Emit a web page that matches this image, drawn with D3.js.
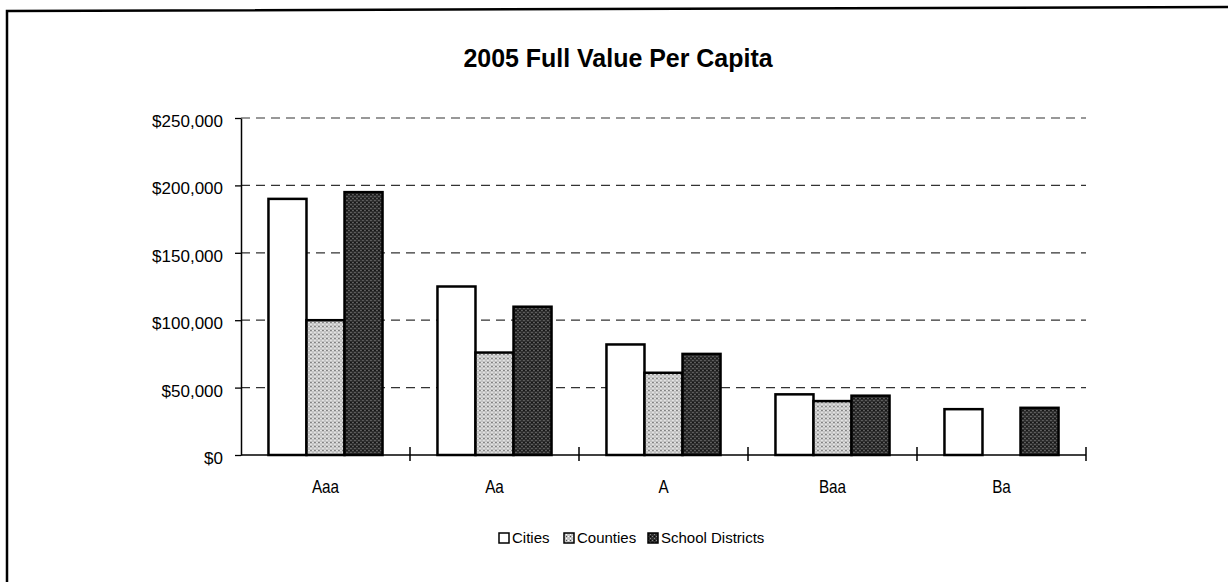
<!DOCTYPE html>
<html>
<head>
<meta charset="utf-8">
<script src="https://cdn.jsdelivr.net/npm/d3@7"></script>
<style>
  html, body { margin: 0; padding: 0; background: #fff; }
  svg { display: block; }
  text { font-family: "Liberation Sans", Arial, sans-serif; fill: #000; }
</style>
</head>
<body>
<svg id="chart" width="1228" height="582"></svg>
<script>
// Bond rating categories and per-capita full value by issuer type
const ratings = ["Aaa", "Aa", "A", "Baa", "Ba"];
const seriesNames = ["Cities", "Counties", "School Districts"];
const cities = [190000, 125000, 82000, 45000, 34000];
const counties = [100000, 76000, 61000, 40000, null];
const schoolDistricts = [195000, 110000, 75000, 44000, 35000];
const yTicks = [0, 50000, 100000, 150000, 200000, 250000];
const title = "2005 Full Value Per Capita";

const seriesValues = [cities, counties, schoolDistricts];
const fills = ["#ffffff", "url(#stippleLight)", "url(#stippleDark)"];

const svg = d3.select("#chart");
const W = 1228, H = 582;
const margin = { left: 241, right: 142, top: 118, bottom: 127 };
const innerW = W - margin.left - margin.right;
const innerH = H - margin.top - margin.bottom;

// Stipple patterns for the shaded bars
const defs = svg.append("defs");
function stipple(id, base, dot, dot2) {
  const p = defs.append("pattern").attr("id", id)
    .attr("patternUnits", "userSpaceOnUse").attr("width", 4).attr("height", 4);
  p.append("rect").attr("width", 4).attr("height", 4).attr("fill", base);
  p.append("rect").attr("x", 0).attr("y", 0).attr("width", 1).attr("height", 1).attr("fill", dot);
  p.append("rect").attr("x", 2).attr("y", 2).attr("width", 1).attr("height", 1).attr("fill", dot);
  p.append("rect").attr("x", 2).attr("y", 0).attr("width", 1).attr("height", 1).attr("fill", dot2);
}
stipple("stippleLight", "#c4c4c4", "#ffffff", "#4a4a4a");
stipple("stippleDark", "#2e2e2e", "#8a8a8a", "#000000");

// Outer frame (left and top edges)
svg.append("path")
  .attr("d", `M7,${H} L7,11 L${W},7`)
  .attr("fill", "none").attr("stroke", "#000").attr("stroke-width", 2.5);

// Title, slightly condensed
svg.append("g").attr("transform", "translate(618,67) scale(0.96,1)")
  .append("text")
  .attr("text-anchor", "middle")
  .attr("font-size", 26).attr("font-weight", "bold")
  .text(title);

const g = svg.append("g").attr("transform", `translate(${margin.left},${margin.top})`);

const x0 = d3.scaleBand().domain(ratings).range([0, innerW]).paddingInner(0.325).paddingOuter(0.1625);
const x1 = d3.scaleBand().domain(seriesNames).range([0, x0.bandwidth()]);
const y = d3.scaleLinear().domain([0, 250000]).range([innerH, 0]);

// Dashed gridlines
g.append("g").selectAll("line").data(yTicks.filter(d => d > 0)).join("line")
  .attr("x1", 0).attr("x2", innerW)
  .attr("y1", d => y(d)).attr("y2", d => y(d))
  .attr("stroke", "#333").attr("stroke-width", 1.2)
  .attr("stroke-dasharray", "9,6");

// Bars
const groups = g.append("g").selectAll("g").data(ratings).join("g")
  .attr("transform", d => `translate(${x0(d)},0)`);
groups.selectAll("rect")
  .data((r, i) => seriesNames.map((s, j) => ({ s, j, v: seriesValues[j][i] })).filter(d => d.v != null))
  .join("rect")
  .attr("x", d => x1(d.s))
  .attr("width", x1.bandwidth())
  .attr("y", d => y(d.v))
  .attr("height", d => innerH - y(d.v))
  .attr("fill", d => fills[d.j])
  .attr("stroke", "#000").attr("stroke-width", 2.5);

// Y axis
const yAxis = g.append("g")
  .call(d3.axisLeft(y).tickValues(yTicks).tickSize(6).tickSizeOuter(0).tickPadding(12)
    .tickFormat(d => "$" + d3.format(",")(d)));
yAxis.select(".domain").attr("stroke-width", 1.5);
yAxis.selectAll(".tick line").attr("stroke-width", 1.3);
yAxis.selectAll("text").attr("font-size", 17).attr("font-family", null)
  .attr("dy", "0.32em").attr("y", 3);

// X axis with ticks between categories crossing the line
const xAxis = g.append("g").attr("transform", `translate(0,${innerH})`);
xAxis.append("line").attr("x1", 0).attr("x2", innerW).attr("stroke", "#000").attr("stroke-width", 1.5);
const bounds = ratings.map(r => x0(r) - x0.step() * x0.paddingInner() / 2).concat([innerW]);
xAxis.selectAll(".xt").data(bounds.slice(1)).join("line").attr("class", "xt")
  .attr("x1", d => d).attr("x2", d => d).attr("y1", -8).attr("y2", 6)
  .attr("stroke", "#000").attr("stroke-width", 1.5);
xAxis.selectAll(".xl").data(ratings).join("g").attr("class", "xl")
  .attr("transform", d => `translate(${x0(d) + x0.bandwidth() / 2},38) scale(0.85,1)`)
  .append("text")
  .attr("text-anchor", "middle").attr("font-size", 18)
  .text(d => d);

// Legend
const legend = svg.append("g");
const legendX = [499, 564, 648];
seriesNames.forEach((s, j) => {
  legend.append("rect").attr("x", legendX[j]).attr("y", 533).attr("width", 10).attr("height", 10)
    .attr("fill", fills[j]).attr("stroke", "#000").attr("stroke-width", 1.5);
  legend.append("text").attr("x", legendX[j] + 13).attr("y", 543)
    .attr("font-size", 15).text(s);
});
</script>
</body>
</html>
